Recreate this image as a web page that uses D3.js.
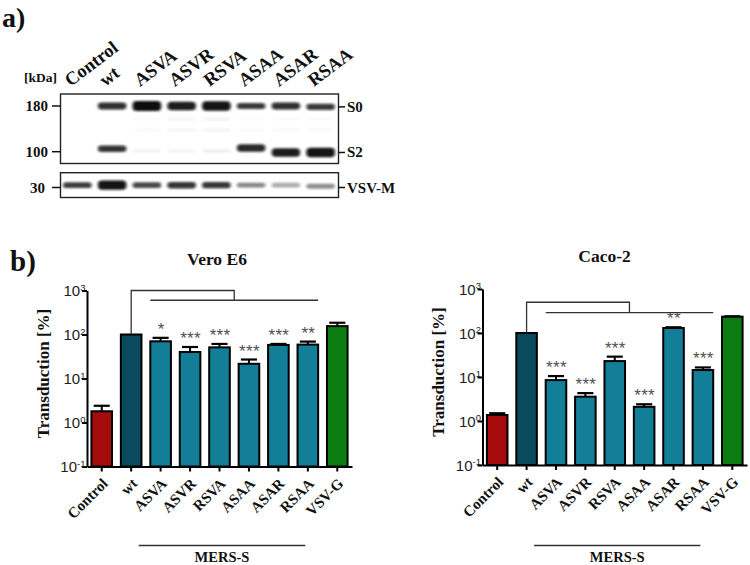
<!DOCTYPE html>
<html><head><meta charset="utf-8">
<script src="https://cdn.jsdelivr.net/npm/d3@7"></script>
<style>body{margin:0;background:#fff} svg{display:block}</style>
</head><body>
<svg id="fig" width="750" height="565"></svg>
<script>
// ---------- data: western blot (panel a) ----------
const lanes = ["Control","wt","ASVA","ASVR","RSVA","ASAA","ASAR","RSAA"];
const s0Amount = [0, 0.55, 1, 0.8, 0.9, 0.45, 0.55, 0.45];
const s0Kda    = [180, 180, 180, 180, 180, 180, 180, 178];
const s2Amount = [0, 0.5, 0.05, 0.04, 0.06, 0.65, 0.8, 0.9];
const s2Kda    = [100, 104, 101, 101, 101, 105, 99, 99];
const faintAmount = [0, 0, 0.02, 0.035, 0.04, 0.015, 0.02, 0.02];
const faintKda = [152, 132];
const vsvAmount = [0.42, 0.9, 0.38, 0.5, 0.48, 0.28, 0.22, 0.27];
const vsvKda    = [31.5, 31.5, 31.5, 31.5, 31.5, 31.5, 31.5, 30.8];
const markerKda = [180, 100];
const markerPanelB = [30];
const bandLabels = ["S0", "S2"];

// ---------- data: transduction (panel b) ----------
const groups = ["Control","wt","ASVA","ASVR","RSVA","ASAA","ASAR","RSAA","VSV-G"];
const veroMean = [1.8, 100, 70, 40, 51, 21.6, 58, 59, 155];
const veroErr  = [2.4, 100, 84, 52, 61, 27, 61, 69, 185];
const veroSig  = ["", "", "*", "***", "***", "***", "***", "**", ""];
const cacoMean = [1.37, 100, 8.5, 3.57, 23, 2.1, 130, 14.4, 235];
const cacoErr  = [1.5, 100, 10.5, 4.3, 29, 2.4, 135, 16.5, 240];
const cacoSig  = ["", "", "***", "***", "***", "***", "**", "***", ""];
const yTicks = [0.1, 1, 10, 100, 1000];
const yExp = ["-1", "0", "1", "2", "3"];
const veroBracket = [1000, 600];
const cacoBracket = [500, 290];

// ---------- drawing ----------
const svg = d3.select("#fig");
const serif = "'Liberation Serif','Times New Roman',serif";
const sans = "'Liberation Sans',Arial,sans-serif";
const defs = svg.append("defs");
defs.append("filter").attr("id","blur").attr("x","-30%").attr("y","-150%").attr("width","160%").attr("height","400%")
  .append("feGaussianBlur").attr("stdDeviation","1.5 1.2");
defs.append("clipPath").attr("id","clipTop").append("rect").attr("x",61).attr("y",95).attr("width",277).attr("height",68);
defs.append("clipPath").attr("id","clipBot").append("rect").attr("x",61).attr("y",173.5).attr("width",277).attr("height",23.5);

function boldText(g, x, y, txt, size, anchor) {
  return g.append("text").attr("x",x).attr("y",y).attr("font-family",serif).attr("font-weight","bold")
    .attr("font-size",size).attr("text-anchor",anchor||"start").attr("fill","#111").text(txt);
}

// ---- panel a ----
boldText(svg, 2, 26.5, "a)", 28);
const laneX = d3.scaleBand().domain(lanes).range([60,338]).paddingInner(0.18).paddingOuter(0.09);
const kDa = d3.scaleLog().domain([100,180]).range([151.7,106]);
const kDaB = d3.scaleLog().domain([30,35]).range([187.5,180]);
const thick = d3.scaleLinear().domain([0,1]).range([3,10]);
const opac = d3.scaleLinear().domain([0,0.15,0.4,1]).range([0,0.16,0.8,1]).clamp(true);

const blotTop = svg.append("g").attr("clip-path","url(#clipTop)");
const blotBot = svg.append("g").attr("clip-path","url(#clipBot)");
function band(g, lane, amount, cy) {
  if (amount <= 0) return;
  const t = thick(amount), w = laneX.bandwidth();
  g.append("rect").attr("x", laneX(lane)).attr("width", w)
    .attr("y", cy - t/2).attr("height", t).attr("rx", Math.min(t/2, 4))
    .attr("fill","#0a0a0a").attr("opacity", opac(amount)).attr("filter","url(#blur)");
}
lanes.forEach((l,i) => {
  band(blotTop, l, s0Amount[i], kDa(s0Kda[i]));
  band(blotTop, l, s2Amount[i], kDa(s2Kda[i]));
  faintKda.forEach(k => band(blotTop, l, faintAmount[i], kDa(k)));
  band(blotBot, l, vsvAmount[i], kDaB(vsvKda[i]));
});
svg.append("rect").attr("x",60.5).attr("y",94).attr("width",278).attr("height",69.5)
  .attr("fill","none").attr("stroke","#222").attr("stroke-width",1.4);
svg.append("rect").attr("x",60.5).attr("y",172.7).attr("width",278).attr("height",24.8)
  .attr("fill","none").attr("stroke","#222").attr("stroke-width",1.4);

// lane labels
lanes.forEach(l => {
  const cx = laneX(l) + laneX.bandwidth()/2;
  svg.append("text").attr("transform",`translate(${cx-7},87) rotate(-37)`)
    .attr("font-family",serif).attr("font-weight","bold").attr("font-size",18.5).attr("fill","#111").text(l);
});
boldText(svg, 24, 82, "[kDa]", 13.5);
// markers
markerKda.forEach(k => {
  const y = kDa(k);
  boldText(svg, 48, y+5, String(k), 15, "end");
  svg.append("line").attr("x1",52).attr("x2",60).attr("y1",y).attr("y2",y).attr("stroke","#111").attr("stroke-width",1.5);
});
markerPanelB.forEach(k => {
  const y = kDaB(k);
  boldText(svg, 45, y+5, String(k), 15, "end");
  svg.append("line").attr("x1",52).attr("x2",60).attr("y1",y).attr("y2",y).attr("stroke","#111").attr("stroke-width",1.5);
});
[[bandLabels[0], kDa(s0Kda[7])], [bandLabels[1], kDa(s2Kda[7])], ["VSV-M", kDaB(markerPanelB[0])]].forEach(([t,y]) => {
  svg.append("line").attr("x1",338).attr("x2",345).attr("y1",y).attr("y2",y).attr("stroke","#111").attr("stroke-width",1.5);
  boldText(svg, 347, y+5, t, 15);
});

// ---- panel b ----
boldText(svg, 10, 271, "b)", 29);
function barColor(i) {
  if (i === 0) return "#a50b0b";
  if (i === 1) return "#094b5d";
  if (i === groups.length - 1) return "#0b7d10";
  return "#127e97";
}
function barChart(c) {
  const x = d3.scaleBand().domain(groups).range([c.x0, c.x1]).paddingInner(0.3).paddingOuter(0.15);
  const y = d3.scaleLog().domain([0.1, 1000]).range([c.yb, c.yt]);
  const g = svg.append("g");
  const cx = d => x(d) + x.bandwidth()/2;
  const idx = groups.map((d,i)=>i);
  // bars
  g.selectAll("rect.bar").data(idx).join("rect").attr("class","bar")
    .attr("x", i => x(groups[i])).attr("width", x.bandwidth())
    .attr("y", i => y(c.mean[i])).attr("height", i => y(0.1) - y(c.mean[i]))
    .attr("fill", i => barColor(i)).attr("stroke","#000").attr("stroke-width",2);
  // error bars
  const cw = x.bandwidth()*0.78;
  idx.filter(i => c.err[i] > c.mean[i]).forEach(i => {
    g.append("line").attr("x1",cx(groups[i])).attr("x2",cx(groups[i]))
      .attr("y1",y(c.mean[i])).attr("y2",y(c.err[i])).attr("stroke","#000").attr("stroke-width",2);
    g.append("line").attr("x1",cx(groups[i])-cw/2).attr("x2",cx(groups[i])+cw/2)
      .attr("y1",y(c.err[i])).attr("y2",y(c.err[i])).attr("stroke","#000").attr("stroke-width",2.2);
  });
  // significance
  idx.filter(i => c.sig[i]).forEach(i => {
    g.append("text").attr("x",cx(groups[i])+0.5).attr("y",y(c.err[i]) - 3)
      .attr("text-anchor","middle").attr("font-family",sans).attr("font-size",17)
      .attr("letter-spacing","0.3px").attr("fill","#505050").text(c.sig[i]);
  });
  // bracket
  const xl = x("ASVA"), xr = x("RSAA") + x.bandwidth(), xm = (xl + xr)/2;
  const yTop = y(c.bracket[0]), yLow = y(c.bracket[1]);
  g.append("path").attr("d", `M${cx("wt")},${y(c.mean[1])}V${yTop}H${xm}V${yLow}`)
    .attr("fill","none").attr("stroke","#333").attr("stroke-width",1.3);
  g.append("line").attr("x1",xl).attr("x2",xr).attr("y1",yLow).attr("y2",yLow).attr("stroke","#333").attr("stroke-width",1.3);
  // axes
  const ya = g.append("g").attr("transform",`translate(${c.x0},0)`)
    .call(d3.axisLeft(y).tickValues(yTicks).tickSize(5).tickSizeOuter(0).tickFormat(""));
  ya.selectAll("path,line").attr("stroke","#000").attr("stroke-width",2);
  ya.selectAll(".tick").each(function(d,i){
    const t = d3.select(this).append("text").attr("x",-1.5).attr("y",0).attr("dy","0.36em")
      .attr("text-anchor","end").attr("font-family",sans).attr("font-size",15).attr("fill","#222");
    t.append("tspan").text("10");
    t.append("tspan").attr("dy","-0.6em").attr("font-size",9.5).text(yExp[i]);
  });
  const xa = g.append("g").attr("transform",`translate(0,${c.yb})`)
    .call(d3.axisBottom(x).tickSize(5).tickSizeOuter(0));
  xa.selectAll("path,line").attr("stroke","#000").attr("stroke-width",2);
  xa.selectAll(".tick text").attr("x",0).attr("y",0).attr("dy",0)
    .attr("transform","translate(7,18) rotate(-45)").attr("text-anchor","end")
    .attr("font-family",serif).attr("font-weight","bold").attr("font-size",15).attr("fill","#111");
  // title, y label, MERS-S
  boldText(g, c.titleX, c.titleY, c.title, 17.5, "middle");
  g.append("text").attr("transform",`translate(${c.labelX},${(c.yb+c.yt)/2 - 5}) rotate(-90)`)
    .attr("text-anchor","middle").attr("font-family",serif).attr("font-weight","bold")
    .attr("font-size",17).attr("fill","#111").text("Transduction [%]");
  const mx1 = cx("wt") + 7.5, mx2 = cx("RSAA") - 2.5;
  g.append("line").attr("x1",mx1).attr("x2",mx2).attr("y1",545.5).attr("y2",545.5).attr("stroke","#333").attr("stroke-width",1.5);
  boldText(g, (mx1+mx2)/2, 562, "MERS-S", 14.5, "middle");
}
barChart({x0:87, x1:352, yb:466.5, yt:290.5, mean:veroMean, err:veroErr, sig:veroSig, bracket:veroBracket,
  title:"Vero E6", titleX:217, titleY:264.5, labelX:49});
barChart({x0:482.5, x1:747, yb:465, yt:289, mean:cacoMean, err:cacoErr, sig:cacoSig, bracket:cacoBracket,
  title:"Caco-2", titleX:604.5, titleY:262, labelX:444});
</script>
</body></html>
